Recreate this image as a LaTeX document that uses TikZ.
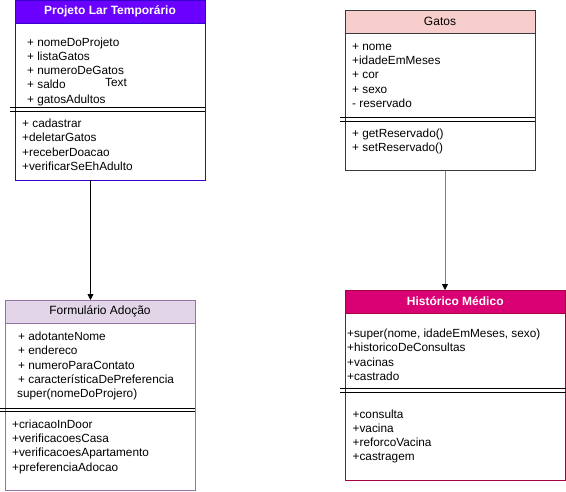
\documentclass[tikz,border=0pt]{standalone}
\usepackage{fontspec}
\setmainfont{Liberation Sans}
\usetikzlibrary{arrows.meta}
\definecolor{pjfill}{HTML}{6A00FF}
\definecolor{pjline}{HTML}{3700CC}
\definecolor{gtfill}{HTML}{F8CECC}
\definecolor{gtline}{HTML}{36393D}
\definecolor{fmfill}{HTML}{E1D5E7}
\definecolor{fmline}{HTML}{9673A6}
\definecolor{hmfill}{HTML}{D80073}
\definecolor{hmline}{HTML}{A50040}
\definecolor{arrgray}{HTML}{808080}
\tikzset{
  classbox/.style={rectangle, anchor=north west, inner sep=0pt, outer sep=0pt, line width=0.8pt, fill=white},
  headbox/.style={rectangle, anchor=north west, inner sep=0pt, outer sep=0pt, line width=0.8pt, align=center},
  item/.style={anchor=base west, inner sep=0pt, font=\fontsize{11.8}{13}\selectfont},
  ttl/.style={font=\fontsize{12}{14}\selectfont},
  sep/.style={line width=0.8pt, draw=black},
  arr/.style={line width=0.8pt, -{Triangle[length=6pt,width=6pt]}}
}
\begin{document}
\begin{tikzpicture}[x=1pt,y=-1pt]
\useasboundingbox (0,0) rectangle (566,491);

% Projeto Lar Temporario
\node[classbox, draw=pjline, minimum width=190pt, minimum height=179.5pt] (p) at (15,0.5) {};
\node[headbox, draw=pjline, fill=pjfill, minimum width=190pt, minimum height=22.5pt, text=white, font=\bfseries\fontsize{12}{14}\selectfont] (ph) at (15,0.5) {Projeto Lar Temporário};
\foreach \t [count=\i from 0] in {+ nomeDoProjeto, + listaGatos, + numeroDeGatos, + saldo, + gatosAdultos}
  \node[item] (pa\i) at (27,46+14.3*\i) {\t};
\node[item] (ptext) at (105,86) {Text};
\coordinate (pl1) at (10,107.3);
\coordinate (pl2) at (10,111);
\draw[sep] (pl1) -- (pl1 -| p.east);
\draw[sep] (pl2) -- (pl2 -| p.east);
\foreach \t [count=\i from 0] in {+ cadastrar, +deletarGatos, +receberDoacao, +verificarSeEhAdulto}
  \node[item] (pm\i) at (22,127.5+14.3*\i) {\t};

% Gatos
\node[classbox, draw=gtline, minimum width=190pt, minimum height=160.5pt] (g) at (345,10) {};
\node[headbox, draw=gtline, fill=gtfill, minimum width=190pt, minimum height=23pt, ttl] (gh) at (345,10) {Gatos};
\foreach \t [count=\i from 0] in {+ nome, +idadeEmMeses, + cor, + sexo, - reservado}
  \node[item] (ga\i) at (352,50+14.4*\i) {\t};
\coordinate (gl1) at (340,117.3);
\coordinate (gl2) at (340,121);
\draw[sep] (gl1) -- (gl1 -| g.east);
\draw[sep] (gl2) -- (gl2 -| g.east);
\foreach \t [count=\i from 0] in {+ getReservado(), + setReservado()}
  \node[item] (gm\i) at (352,137.3+14*\i) {\t};

% Formulario Adocao
\node[classbox, draw=fmline, minimum width=190pt, minimum height=190pt] (f) at (5,300) {};
\node[headbox, draw=fmline, fill=fmfill, minimum width=190pt, minimum height=23pt, ttl] (fh) at (5,300) {Formulário Adoção};
\foreach \t [count=\i from 0] in {+ adotanteNome, + endereco, + numeroParaContato, + característicaDePreferencia}
  \node[item] (fa\i) at (18,340.7+14.2*\i) {\t};
\node[item] (fa4) at (17,397.5) {super(nomeDoProjero)};
\coordinate (fl1) at (0,408);
\coordinate (fl2) at (0,411.7);
\draw[sep] (fl1) -- (fl1 -| f.east);
\draw[sep] (fl2) -- (fl2 -| f.east);
\foreach \t [count=\i from 0] in {+criacaoInDoor, +verificacoesCasa, +verificacoesApartamento, +preferenciaAdocao}
  \node[item] (fm\i) at (12,428.5+14.2*\i) {\t};

% Historico Medico
\node[classbox, draw=hmline, minimum width=220.5pt, minimum height=190pt] (h) at (345,290) {};
\node[headbox, draw=hmline, fill=hmfill, minimum width=220.5pt, minimum height=23pt, text=white, font=\bfseries\fontsize{12}{14}\selectfont] (hh) at (345,290) {Histórico Médico};
\foreach \t [count=\i from 0] in {{+super(nome, idadeEmMeses, sexo)}, +historicoDeConsultas, +vacinas, +castrado}
  \node[item] (ha\i) at (347,337.3+14.4*\i) {\t};
\coordinate (hl1) at (340,388.3);
\coordinate (hl2) at (340,392.3);
\draw[sep] (hl1) -- (hl1 -| h.east);
\draw[sep] (hl2) -- (hl2 -| h.east);
\foreach \t [count=\i from 0] in {+consulta, +vacina, +reforcoVacina, +castragem}
  \node[item] (hm\i) at (352.5,418+14.3*\i) {\t};

% connectors
\coordinate (c1) at (90.5,0);
\coordinate (c2) at (445,0);
\draw[arr, draw=black] (p.south -| c1) -- (fh.north -| c1);
\draw[arr, draw=arrgray, -{Triangle[length=6pt,width=6pt,color=black]}] (g.south -| c2) -- (hh.north -| c2);
\end{tikzpicture}
\end{document}
